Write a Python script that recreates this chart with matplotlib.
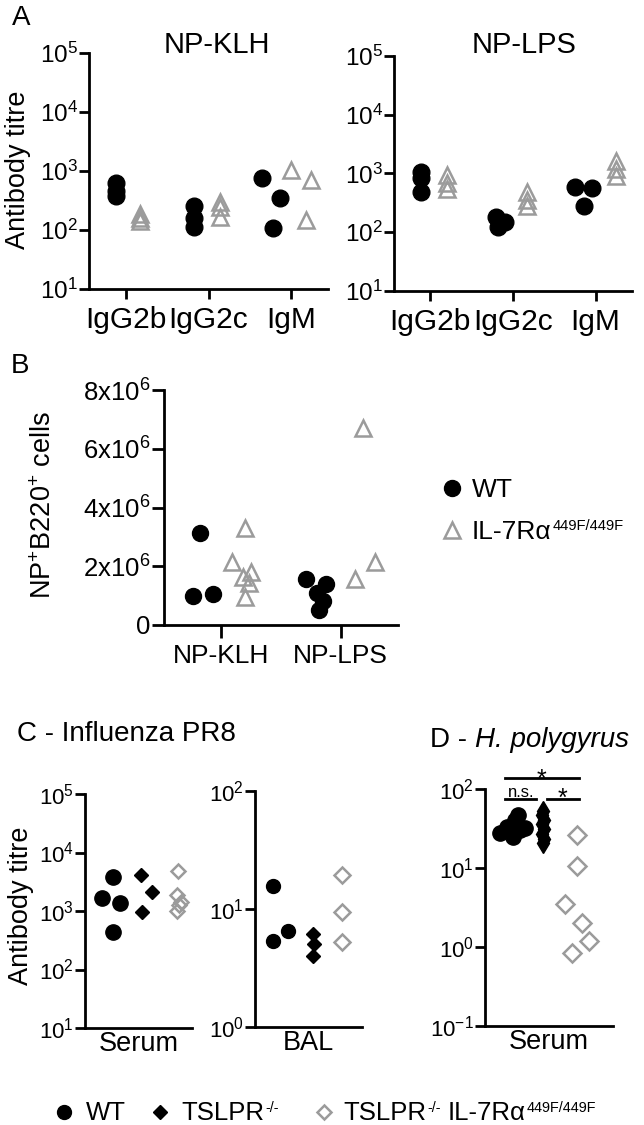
import numpy as np
import matplotlib
matplotlib.use('Agg')
import matplotlib.pyplot as plt
from matplotlib.ticker import LogFormatterMathtext, NullLocator

plt.rcParams['font.family'] = ['Liberation Sans', 'DejaVu Sans']
plt.rcParams['mathtext.fontset'] = 'custom'
plt.rcParams['mathtext.rm'] = 'Liberation Sans'
plt.rcParams['mathtext.it'] = 'Liberation Sans:italic'
plt.rcParams['mathtext.default'] = 'regular'

# ---- data ----
# A: antibody titres (3 mice per isotype)
a_cats = ['IgG2b', 'IgG2c', 'IgM']
klh_wt = [[620, 450, 370], [255, 160, 112], [760, 350, 108]]
klh_mut = [[190, 160, 140], [295, 245, 166], [1050, 700, 148]]
lps_wt = [[1080, 850, 480], [180, 150, 125], [580, 560, 275]]
lps_mut = [[950, 700, 540], [480, 360, 280], [1650, 1200, 900]]

# B: NP+B220+ cells
b_cats = ['NP-KLH', 'NP-LPS']
b_wt = [[3.13e6, 1.0e6, 1.05e6], [1.55e6, 1.4e6, 1.1e6, 0.82e6, 0.5e6]]
b_mut = [[3.3e6, 2.15e6, 1.8e6, 1.62e6, 1.42e6, 0.95e6], [6.7e6, 1.55e6, 2.15e6]]
b_ticklabels = ['0', r'2x10$^{6}$', r'4x10$^{6}$', r'6x10$^{6}$', r'8x10$^{6}$']

# C: influenza PR8 titres (WT, TSLPR-/-, TSLPR-/- IL-7Ra mutant)
c_serum = [[3800, 1660, 1380, 440], [4100, 2100, 960], [4800, 1900, 1450, 1250, 1000]]
c_bal = [[15.7, 5.4, 6.5], [6.1, 5.1, 4.0], [19.4, 9.4, 5.25]]

# D: H. polygyrus serum titres
d_serum = [[47, 41, 33, 32, 30, 28, 25],
           [53, 47, 41, 36, 31, 27, 23, 21],
           [26, 10.7, 3.5, 2.0, 1.2, 0.85]]

# scatter jitter (horizontal offsets from the group centre)
klh_wt_off = [[-0.11, -0.11, -0.11], [-0.17, -0.17, -0.17], [-0.36, -0.14, -0.22]]
klh_mut_off = [[0.18, 0.18, 0.18], [0.14, 0.14, 0.14], [0.0, 0.24, 0.17]]
lps_wt_off = [[-0.11, -0.11, -0.11], [-0.2, -0.1, -0.18], [-0.25, -0.04, -0.14]]
lps_mut_off = [[0.2, 0.2, 0.2], [0.17, 0.17, 0.17], [0.25, 0.25, 0.25]]
b_wt_off = [[-0.18, -0.24, -0.07], [-0.29, -0.12, -0.2, -0.15, -0.18]]
b_mut_off = [[0.2, 0.09, 0.25, 0.18, 0.23, 0.2], [0.19, 0.12, 0.29]]
c_serum_off = [[0.09, -0.24, 0.3, 0.09], [-0.06, 0.3, -0.03], [0.06, 0.03, 0.18, 0.12, 0.03]]
c_bal_off = [[-0.2, -0.2, 0.24], [0.0, 0.05, 0.0], [-0.12, -0.12, -0.12]]
d_off = [[0.16, 0.06, -0.19, 0.37, 0.22, -0.4, 0.0],
         [-0.06, -0.1, -0.02, -0.1, -0.02, -0.1, -0.02, -0.06],
         [0.0, 0.0, -0.37, 0.16, 0.37, -0.16]]

W, H = 644, 1125
GREY = '#9b9b9b'


def rect(x0, y0, x1, y1):
    # pixel box (origin top-left) -> figure fraction
    return [x0 / W, 1 - y1 / H, (x1 - x0) / W, (y1 - y0) / H]


def fp(x, y):
    return x / W, 1 - y / H


def style(ax, ysize=16, xsize=16, tlen=7):
    for s in ['top', 'right']:
        ax.spines[s].set_visible(False)
    for s in ['left', 'bottom']:
        ax.spines[s].set_linewidth(2)
    ax.tick_params(direction='out', width=2, length=tlen, pad=1)
    ax.tick_params(axis='y', labelsize=ysize)
    ax.tick_params(axis='x', labelsize=xsize, pad=4)


def logy(ax, lo, hi):
    ax.set_yscale('log')
    ax.set_ylim(10.0 ** lo, 10.0 ** hi)
    ax.set_yticks([10.0 ** e for e in range(lo, hi + 1)])
    ax.yaxis.set_minor_locator(NullLocator())
    ax.yaxis.set_major_formatter(LogFormatterMathtext())


circ = dict(ls='none', marker='o', mfc='k', mec='k', clip_on=False)
tri = dict(ls='none', marker='^', mfc='none', mec=GREY, mew=1.8, clip_on=False)
dia = dict(ls='none', marker='D', mfc='k', mec='k', clip_on=False)
odia = dict(ls='none', marker='D', mfc='none', mec=GREY, mew=1.8, clip_on=False)

fig = plt.figure(figsize=(W / 100, H / 100), dpi=100)

# ---- A ----
for box, wt, mut, wo, mo in [((89, 53, 328, 289), klh_wt, klh_mut, klh_wt_off, klh_mut_off),
                             ((394, 56, 632, 291), lps_wt, lps_mut, lps_wt_off, lps_mut_off)]:
    ax = fig.add_axes(rect(*box))
    for i in range(len(a_cats)):
        ax.plot(i + np.array(wo[i]), wt[i], ms=12, **circ)
        ax.plot(i + np.array(mo[i]), mut[i], ms=11, **tri)
    logy(ax, 1, 5)
    ax.set_xlim(-0.44, 2.44)
    ax.set_xticks(range(len(a_cats)))
    ax.set_xticklabels(a_cats)
    style(ax, ysize=17.5, xsize=21.5)
    ax.tick_params(axis='x', length=7.5, pad=5)

fig.text(*fp(21, 18), 'A', fontsize=20, ha='center', va='center')
fig.text(*fp(217, 45), 'NP-KLH', fontsize=21, ha='center', va='center')
fig.text(*fp(524, 45), 'NP-LPS', fontsize=21, ha='center', va='center')
fig.text(*fp(18, 170), 'Antibody titre', fontsize=19.5, rotation=90, ha='center', va='center')

# ---- B ----
axb = fig.add_axes(rect(164, 390, 398, 625))
for i in range(len(b_cats)):
    axb.plot(i + np.array(b_wt_off[i]), b_wt[i], ms=11.5, **circ)
    axb.plot(i + np.array(b_mut_off[i]), b_mut[i], ms=12, **tri)
axb.set_ylim(0, 8e6)
axb.set_yticks([0, 2e6, 4e6, 6e6, 8e6])
axb.set_yticklabels(b_ticklabels)
axb.set_xlim(-0.48, 1.48)
axb.set_xticks(range(len(b_cats)))
axb.set_xticklabels(b_cats)
style(axb, ysize=18.5, xsize=19, tlen=8.5)
axb.tick_params(axis='x', length=9, pad=5)
fig.text(*fp(20, 366), 'B', fontsize=20, ha='center', va='center')
fig.text(*fp(44, 505), r'NP$^{+}$B220$^{+}$ cells', fontsize=19.5, rotation=90,
         ha='center', va='center')

# ---- C ----
axs = fig.add_axes(rect(85, 794, 192, 1028))
for i, (vals, off) in enumerate(zip(c_serum, c_serum_off)):
    kw = [circ, dia, odia][i]
    ms = [11, 7, 7.5][i]
    axs.plot(i + np.array(off), vals, ms=ms, **kw)
logy(axs, 1, 5)
axs.set_xlim(-0.75, 2.5)
axs.set_xticks([])
axs.set_xlabel('Serum', fontsize=19.5, labelpad=2)
style(axs)

axl = fig.add_axes(rect(255, 791, 362, 1027))
for i, (vals, off) in enumerate(zip(c_bal, c_bal_off)):
    kw = [circ, dia, odia][i]
    ms = [10, 7, 8]
    axl.plot(i + np.array(off), vals, ms=ms[i], **kw)
logy(axl, 0, 2)
axl.set_xlim(-0.75, 2.5)
axl.set_xticks([])
axl.set_xlabel('BAL', fontsize=19.5, labelpad=2)
style(axl)

fig.text(*fp(17, 734), 'C - Influenza PR8', fontsize=20, ha='left', va='center')
fig.text(*fp(21, 906), 'Antibody titre', fontsize=19.5, rotation=90, ha='center', va='center')

# ---- D ----
axd = fig.add_axes(rect(485, 789, 613, 1026))
for i, (vals, off) in enumerate(zip(d_serum, d_off)):
    kw = [circ, dict(dia, marker='d'), odia][i]
    ms = [11, 10, 9][i]
    axd.plot(i + np.array(off), vals, ms=ms, **kw)
logy(axd, -1, 2)
axd.set_xlim(-0.875, 3.125)
axd.set_xticks([])
axd.set_xlabel('Serum', fontsize=19.5, labelpad=2)
style(axd)

# significance bars
bar = dict(color='k', lw=2, clip_on=False)
axd.plot([-0.25, 2.06], [138, 138], **bar)
axd.plot([-0.25, 0.72], [74.6, 74.6], **bar)
axd.plot([1.06, 2.06], [74.6, 74.6], **bar)
axd.annotate('*', (0.9, 138), xytext=(0, -6.5), textcoords='offset points',
             ha='center', va='baseline', fontsize=18, annotation_clip=False)
axd.annotate('*', (1.56, 74.6), xytext=(0, -5), textcoords='offset points',
             ha='center', va='baseline', fontsize=18, annotation_clip=False)
axd.annotate('n.s.', (0.24, 74.6), xytext=(0, 1.5), textcoords='offset points',
             ha='center', va='baseline', fontsize=12, annotation_clip=False)

# ---- legends and D title (overlay in pixel units) ----
lax = fig.add_axes([0, 0, 1, 1], zorder=10)
lax.set_xlim(0, W)
lax.set_ylim(H, 0)
lax.axis('off')


def rich(x, y, parts, size, ratio=0.56):
    # parts: list of (text, is_superscript, gap in points before it)
    t0 = lax.text(x, y, parts[0][0], fontsize=size, va='baseline', ha='left')
    prev = t0
    for s, sup, gap in parts[1:]:
        fs = size * ratio if sup else size
        rise = (0.5 * size - 0.21 * (size - fs)) if sup else 0
        prev = lax.annotate(s, xy=(1, 0), xycoords=(prev, t0), xytext=(gap, rise),
                            textcoords='offset points', fontsize=fs,
                            va='bottom', ha='left')
    return t0, prev


t_d, _ = rich(430, 747, [('D -', False, 0)], 20)
lax.annotate('H. polygyrus', xy=(1, 0), xycoords=(t_d, t_d), xytext=(5.5, 0),
             textcoords='offset points', fontsize=20, fontstyle='italic',
             va='bottom', ha='left')

# panel B legend
lax.plot([452], [488], ms=11.5, **circ)
lax.plot([452], [530], ms=12, **tri)
rich(472, 497, [('WT', False, 0)], 19)
rich(472, 539, [('IL-7R\u03b1', False, 0), ('449F/449F', True, 0.5)], 19)

# bottom legend
lax.plot([64], [1112], ms=10, **circ)
lax.plot([160], [1112], ms=7, **dia)
lax.plot([324], [1112], ms=7, **odia)
rich(86, 1120, [('WT', False, 0)], 18.5)
rich(181, 1120, [('TSLPR', False, 0), ('-/-', True, 1)], 18.5)
rich(343, 1120, [('TSLPR', False, 0), ('-/-', True, 1), ('IL-7R\u03b1', False, 5),
                 ('449F/449F', True, 0.5)], 18.5)

fig.savefig('out.png', dpi=100)
